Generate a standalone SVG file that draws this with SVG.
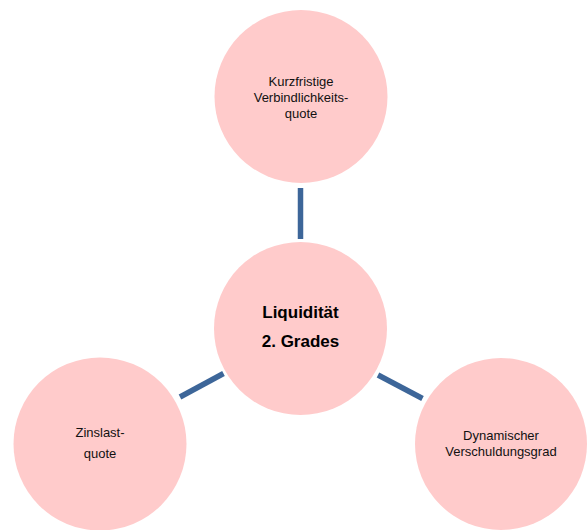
<svg xmlns="http://www.w3.org/2000/svg" width="587" height="530" viewBox="0 0 587 530">
<style>
.node{fill:#FFCBCB;}
.conn{stroke:#3D6699;stroke-width:5.5;stroke-linecap:butt;fill:none;}
.t{font-family:"Liberation Sans",Arial,sans-serif;font-size:13px;fill:#111;text-anchor:middle;}
.b{font-family:"Liberation Sans",Arial,sans-serif;font-size:17px;font-weight:bold;fill:#000;text-anchor:middle;}
</style>
<rect width="587" height="530" fill="#FFFFFF"/>
<g id="connectors">
<line class="conn" x1="300.5" y1="188" x2="300.5" y2="239"/>
<line class="conn" x1="180" y1="397" x2="223.5" y2="373.5"/>
<line class="conn" x1="378" y1="375" x2="422.5" y2="398.5"/>
</g>
<g id="node-top">
<circle class="node" cx="301" cy="96.5" r="86.5"/>
<text class="t" x="301" y="86">Kurzfristige</text>
<text class="t" x="301" y="102">Verbindlichkeits-</text>
<text class="t" x="301" y="118">quote</text>
</g>
<g id="node-center">
<circle class="node" cx="300.5" cy="328.5" r="86.5"/>
<text class="b" x="300.5" y="318">Liquidität</text>
<text class="b" x="300.5" y="347">2. Grades</text>
</g>
<g id="node-left">
<circle class="node" cx="100" cy="444" r="86.5"/>
<text class="t" x="100" y="437">Zinslast-</text>
<text class="t" x="100" y="458">quote</text>
</g>
<g id="node-right">
<circle class="node" cx="501" cy="444" r="86"/>
<text class="t" x="501" y="440">Dynamischer</text>
<text class="t" x="501" y="456">Verschuldungsgrad</text>
</g>
</svg>
